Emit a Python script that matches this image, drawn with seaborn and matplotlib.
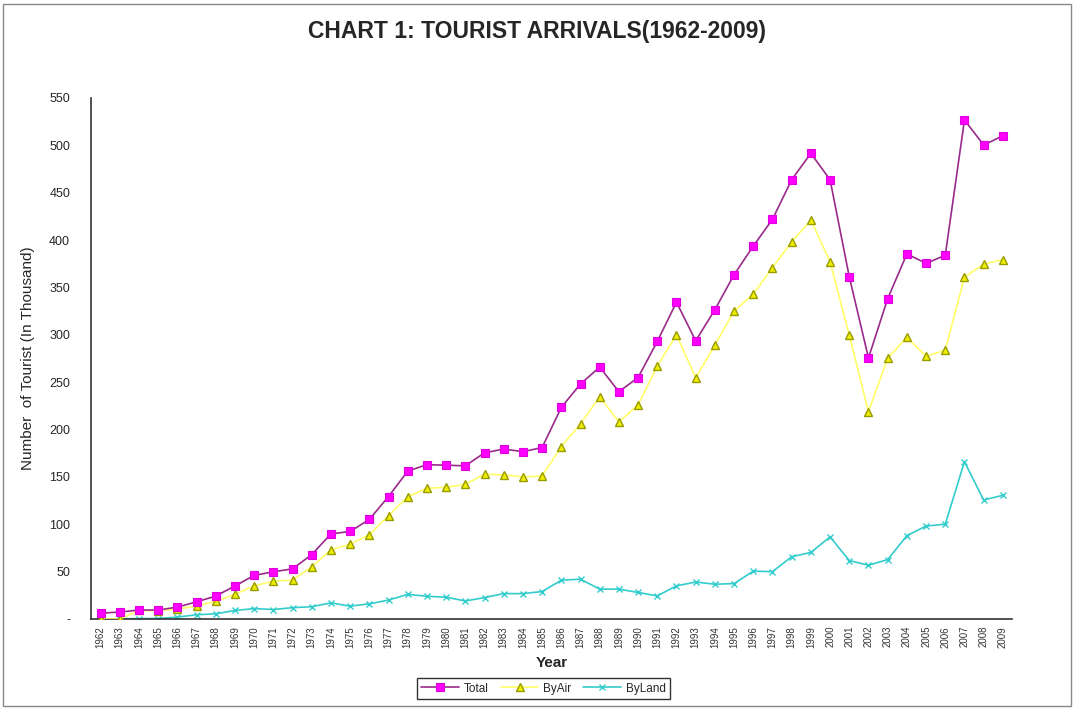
import numpy as np
import pandas as pd
import seaborn as sns
import matplotlib.pyplot as plt
from matplotlib.patches import Rectangle

# dados (em milhares)
anos = list(range(1962, 2010))

total = [6.2, 7.3, 9.5, 9.4, 12.6, 18.1, 24.2, 34.9, 46.0, 49.9,
         52.9, 68.0, 89.8, 92.4, 105.1, 129.3, 156.1, 162.9, 162.3, 161.7,
         175.4, 179.4, 176.6, 181.0, 223.3, 248.1, 265.9, 239.9, 254.9, 293.0,
         334.4, 293.6, 326.5, 363.4, 393.6, 421.9, 463.7, 491.5, 463.6, 361.2,
         275.5, 338.1, 385.3, 375.4, 383.9, 526.7, 500.3, 510.0]

by_air = [0, 0, 9.0, 8.9, 10.6, 13.6, 18.7, 26.0, 35.0, 40.0,
          41.0, 55.0, 73.0, 79.0, 89.0, 109.0, 129.0, 138.0, 139.0, 142.0,
          153.0, 152.0, 150.0, 151.0, 182.0, 206.0, 234.5, 208.0, 226.0, 267.0,
          300.0, 254.6, 289.0, 325.0, 343.0, 371.0, 398.0, 421.2, 376.9, 299.5,
          218.7, 275.4, 297.3, 277.3, 283.8, 360.7, 374.7, 379.3]

by_land = [0, 0, 0.5, 0.5, 2.0, 4.5, 5.5, 9.0, 11.0, 10.0,
           12.0, 13.0, 17.0, 13.6, 16.0, 20.0, 26.0, 24.0, 23.0, 19.0,
           22.6, 26.8, 26.8, 29.0, 41.0, 42.0, 31.5, 31.5, 28.0, 24.4,
           35.0, 39.0, 36.7, 37.4, 50.5, 50.0, 65.7, 70.3, 86.7, 61.7,
           56.8, 62.7, 88.0, 98.1, 100.1, 166.0, 125.6, 130.6]

idx = np.arange(len(anos))
df = pd.DataFrame({'idx': idx, 'Total': total, 'ByAir': by_air, 'ByLand': by_land})

sns.set_style('white')
plt.rcParams['font.family'] = ['Liberation Sans', 'DejaVu Sans']

fig = plt.figure(figsize=(10.74, 7.08), dpi=100)
ax = fig.add_axes([0.0847, 0.1257, 0.858, 0.736])

sns.lineplot(data=df, x='idx', y='ByLand', ax=ax, color='#33CCCC', lw=1.2,
             marker='x', markersize=5, markeredgecolor='#33CCCC', mew=1,
             label='ByLand', zorder=2)
sns.lineplot(data=df, x='idx', y='ByAir', ax=ax, color='#FFFF66', lw=1.2,
             marker='^', markersize=5.5, markerfacecolor='#EEEE00',
             markeredgecolor='#999900', mew=1, label='ByAir', zorder=3)
sns.lineplot(data=df, x='idx', y='Total', ax=ax, color='#9A2A8A', lw=1.2,
             marker='s', markersize=6, markerfacecolor='#FF00FF',
             markeredgecolor='#DD00DD', mew=0.8, label='Total', zorder=4)

ax.set_xlim(-0.5, len(anos) - 0.5)
ax.set_ylim(0, 550)

# rótulos dos anos no centro, marcas entre categorias
ax.set_xticks(idx)
ax.set_xticklabels([str(a) for a in anos], rotation=90, fontsize=7, color='#333333')
ax.set_xticks(np.arange(-0.5, len(anos)), minor=True)
ax.tick_params(axis='x', which='major', length=0, pad=5)
ax.tick_params(axis='x', which='minor', length=4, width=1, color='black', direction='out')

yt = np.arange(0, 551, 50)
ax.set_yticks(yt)
ax.set_yticklabels(['-'] + [str(v) for v in yt[1:]], fontsize=9)
ax.tick_params(axis='y', length=3, width=1, color='#555555', direction='out', pad=12)

for s in ['top', 'right']:
    ax.spines[s].set_visible(False)
for s in ['left', 'bottom']:
    ax.spines[s].set_color('#333333')
    ax.spines[s].set_linewidth(1.2)

ax.set_xlabel('Year', fontsize=11, fontweight='bold', labelpad=6)
ax.set_ylabel('Number  of Tourist (In Thousand)', fontsize=11, labelpad=10)

fig.suptitle('CHART 1: TOURIST ARRIVALS(1962-2009)', fontsize=16.5,
             fontweight='bold', y=0.972)

h, l = ax.get_legend_handles_labels()
ordem = [2, 1, 0]
leg = ax.legend([h[i] for i in ordem], [l[i] for i in ordem], loc='center',
                ncol=3, fontsize=8.5, frameon=True, fancybox=False,
                edgecolor='black', handlelength=3.2, handletextpad=0.4,
                columnspacing=1.0, borderpad=0.35)
leg.set_bbox_to_anchor((0.506, 0.0275), transform=fig.transFigure)
leg.get_frame().set_linewidth(1)

fig.patches.append(Rectangle((0.003, 0.003), 0.994, 0.992, transform=fig.transFigure,
                             fill=False, edgecolor='#888888', lw=1))

plt.savefig('out.png', dpi=100)
